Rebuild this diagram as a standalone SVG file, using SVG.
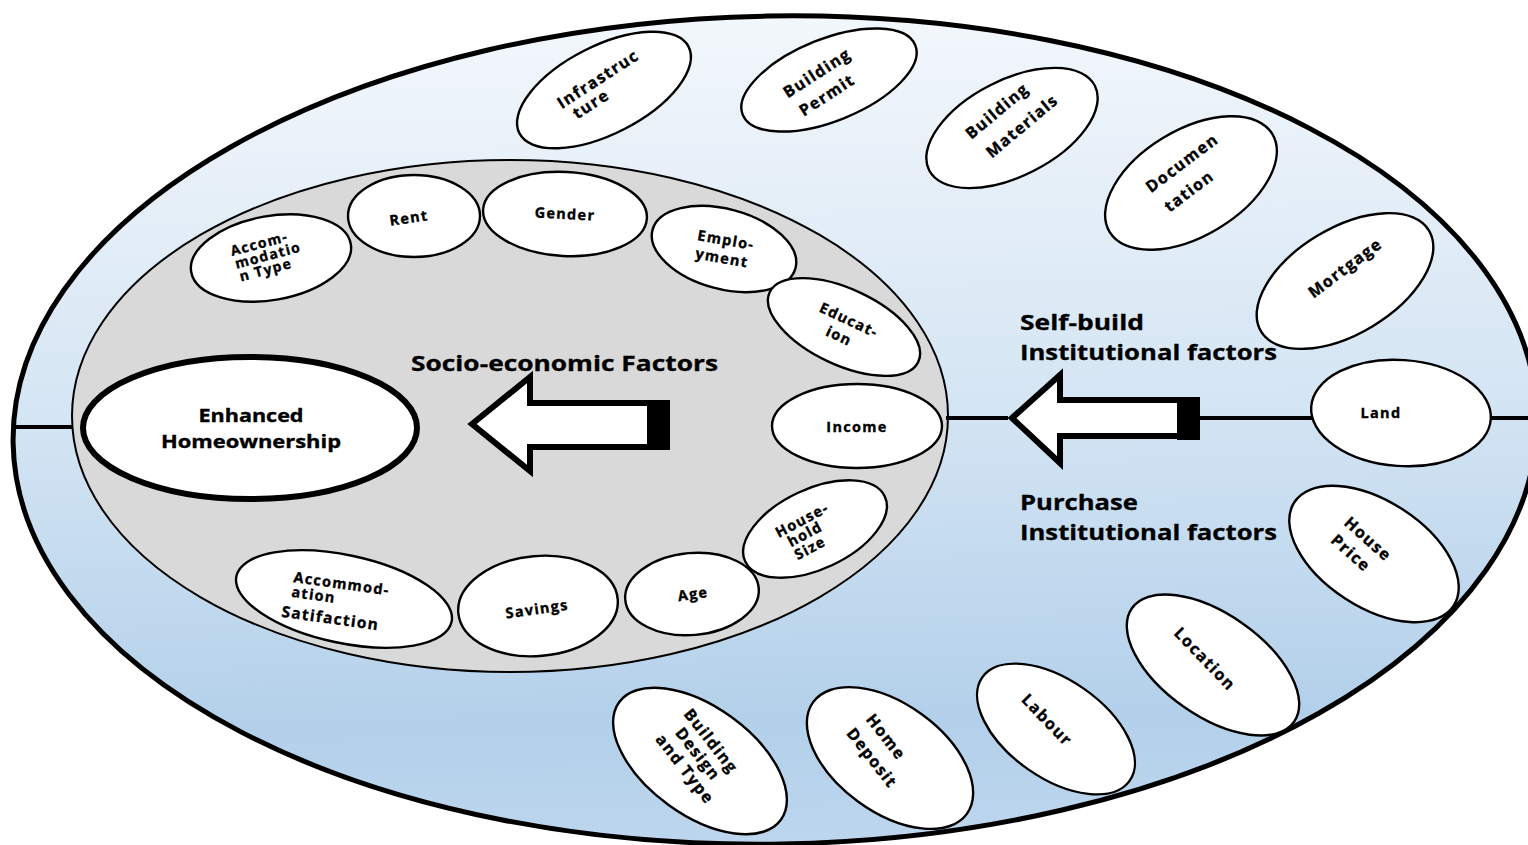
<svg xmlns="http://www.w3.org/2000/svg" width="1528" height="845" viewBox="0 0 1528 845">
  <defs>
    <linearGradient id="skyFill" x1="0" y1="0" x2="0" y2="1">
      <stop offset="0" stop-color="#f3f7fc"/>
      <stop offset="0.45" stop-color="#d6e6f4"/>
      <stop offset="0.85" stop-color="#b3d0ea"/>
      <stop offset="1" stop-color="#bdd6ee"/>
    </linearGradient>
    <style>
      .node { fill: #ffffff; stroke: #000000; stroke-width: 2.4; }
      .t { font-family: "Open Sans", "Liberation Sans", sans-serif; font-weight: 700; font-size: 16px; letter-spacing: 1.4px; text-anchor: middle; fill: #000000; stroke: #000000; stroke-width: 0.35; }
      .ts { font-size: 14.5px; letter-spacing: 1.3px; }
      .big { font-family: "Open Sans", "Liberation Sans", sans-serif; font-weight: 700; font-size: 21px; fill: #000000; stroke: #000000; stroke-width: 0.3; }
      .link { stroke: #000000; stroke-width: 4; fill: none; }
      .blockArrow { fill: #ffffff; stroke: #000000; stroke-width: 6; stroke-linejoin: miter; }
    </style>
  </defs>

  <!-- outer institutional ring and inner socio-economic disc -->
  <g id="frame">
    <ellipse cx="775" cy="430" rx="762" ry="414" transform="rotate(-1 775 430)" fill="url(#skyFill)" stroke="#000" stroke-width="5"/>
    <ellipse cx="510" cy="416" rx="438" ry="256" fill="#d9d9d9" stroke="#000" stroke-width="2"/>
  </g>

  <!-- connecting lines and block arrows -->
  <g id="connectors">
    <line class="link" x1="12" y1="427" x2="72" y2="427"/>
    <line class="link" x1="946" y1="418" x2="1008" y2="418"/>
    <line class="link" x1="1200" y1="418" x2="1312" y2="418"/>
    <line class="link" x1="1490" y1="418" x2="1528" y2="418"/>
    <polygon class="blockArrow" points="472,424 530,377 530,403 650,403 650,447 530,447 530,471"/>
    <rect x="647" y="400" width="23" height="50" fill="#000"/>
    <polygon class="blockArrow" points="1012,418 1060,375 1060,400 1180,400 1180,436 1060,436 1060,463"/>
    <rect x="1177" y="397" width="23" height="43" fill="#000"/>
  </g>

  <!-- group headings -->
  <g id="headings">
    <text class="big" x="411" y="371" textLength="307" lengthAdjust="spacingAndGlyphs">Socio-economic Factors</text>
    <text class="big" x="1020" y="330" textLength="124" lengthAdjust="spacingAndGlyphs">Self-build</text>
    <text class="big" x="1020" y="360" textLength="257" lengthAdjust="spacingAndGlyphs">Institutional factors</text>
    <text class="big" x="1020" y="510" textLength="118" lengthAdjust="spacingAndGlyphs">Purchase</text>
    <text class="big" x="1020" y="540" textLength="257" lengthAdjust="spacingAndGlyphs">Institutional factors</text>
  </g>

  <!-- centre outcome -->
  <g id="n-enhanced">
    <ellipse cx="250" cy="428" rx="167" ry="71" fill="#fff" stroke="#000" stroke-width="6"/>
    <text class="t" x="251" y="422" style="font-size:18px;letter-spacing:0" textLength="105" lengthAdjust="spacingAndGlyphs">Enhanced</text>
    <text class="t" x="251" y="448" style="font-size:18px;letter-spacing:0" textLength="180" lengthAdjust="spacingAndGlyphs">Homeownership</text>
  </g>

  <!-- socio-economic factors -->
  <g id="n-accom-type">
    <ellipse class="node" cx="271" cy="258" rx="81" ry="42" transform="rotate(-10 271 258)"/>
    <g transform="translate(232,256) rotate(-15)">
      <text class="t ts" x="0" y="0" style="text-anchor:start;font-size:14px">Accom-</text>
      <text class="t ts" x="1" y="13.5" style="text-anchor:start;font-size:14px">modatio</text>
      <text class="t ts" x="2" y="27" style="text-anchor:start;font-size:14px">n Type</text>
    </g>
  </g>
  <g id="n-rent">
    <ellipse class="node" cx="414" cy="216" rx="66" ry="41"/>
    <text class="t ts" transform="translate(409,218) rotate(-8)" dy="0.35em">Rent</text>
  </g>
  <g id="n-gender">
    <ellipse class="node" cx="565" cy="214" rx="82" ry="42" transform="rotate(3 565 214)"/>
    <text class="t ts" transform="translate(565,214) rotate(3)" dy="0.35em">Gender</text>
  </g>
  <g id="n-employment">
    <ellipse class="node" cx="724" cy="249" rx="74" ry="40" transform="rotate(15 724 249)"/>
    <text class="t ts" transform="translate(726,240) rotate(10)" dy="0.35em">Emplo-</text>
    <text class="t ts" transform="translate(722,258) rotate(10)" dy="0.35em">yment</text>
  </g>
  <g id="n-education">
    <ellipse class="node" cx="844" cy="327" rx="82" ry="38" transform="rotate(25 844 327)"/>
    <text class="t ts" transform="translate(849,320) rotate(25)" dy="0.35em">Educat-</text>
    <text class="t ts" transform="translate(839,336) rotate(25)" dy="0.35em">ion</text>
  </g>
  <g id="n-income">
    <ellipse class="node" cx="857" cy="426" rx="85" ry="42"/>
    <text class="t ts" x="857" y="427" dy="0.35em">Income</text>
  </g>
  <g id="n-household">
    <ellipse class="node" cx="815" cy="529" rx="77" ry="40" transform="rotate(-25 815 529)"/>
    <text class="t ts" transform="translate(802,520) rotate(-28)" dy="0.35em">House-</text>
    <text class="t ts" transform="translate(805,534) rotate(-28)" dy="0.35em">hold</text>
    <text class="t ts" transform="translate(810,548) rotate(-28)" dy="0.35em">Size</text>
  </g>
  <g id="n-age">
    <ellipse class="node" cx="692" cy="594" rx="67" ry="41" transform="rotate(-5 692 594)"/>
    <text class="t ts" transform="translate(693,594) rotate(-8)" dy="0.35em">Age</text>
  </g>
  <g id="n-savings">
    <ellipse class="node" cx="538" cy="606" rx="80" ry="50" transform="rotate(-5 538 606)"/>
    <text class="t ts" transform="translate(537,609) rotate(-8)" dy="0.35em">Savings</text>
  </g>
  <g id="n-accom-satisfaction">
    <ellipse class="node" cx="344" cy="599" rx="110" ry="44" transform="rotate(12 344 599)"/>
    <g transform="translate(293,582) rotate(8)">
      <text class="t ts" x="0" y="0" style="text-anchor:start">Accommod-</text>
      <text class="t ts" x="0" y="15" style="text-anchor:start">ation</text>
      <text class="t ts" x="-7" y="36" style="text-anchor:start;font-size:15.5px">Satifaction</text>
    </g>
  </g>

  <!-- institutional factors -->
  <g id="n-infrastructure">
    <ellipse class="node" cx="604" cy="90" rx="95" ry="44" transform="rotate(-27 604 90)"/>
    <text class="t" transform="translate(598,79) rotate(-33)" dy="0.35em">Infrastruc</text>
    <text class="t" transform="translate(591,104) rotate(-33)" dy="0.35em">ture</text>
  </g>
  <g id="n-building-permit">
    <ellipse class="node" cx="829" cy="80" rx="93" ry="41" transform="rotate(-22 829 80)"/>
    <text class="t" transform="translate(817,73) rotate(-33)" dy="0.35em">Building</text>
    <text class="t" transform="translate(827,95) rotate(-33)" dy="0.35em">Permit</text>
  </g>
  <g id="n-building-materials">
    <ellipse class="node" cx="1012" cy="128" rx="93" ry="48" transform="rotate(-27 1012 128)"/>
    <text class="t" transform="translate(997,111) rotate(-40)" dy="0.35em">Building</text>
    <text class="t" transform="translate(1022,126) rotate(-40)" dy="0.35em">Materials</text>
  </g>
  <g id="n-documentation">
    <ellipse class="node" cx="1191" cy="183" rx="95" ry="53" transform="rotate(-31 1191 183)"/>
    <text class="t" transform="translate(1182,163) rotate(-37)" dy="0.35em">Documen</text>
    <text class="t" transform="translate(1189,191) rotate(-37)" dy="0.35em">tation</text>
  </g>
  <g id="n-mortgage">
    <ellipse class="node" cx="1345" cy="281" rx="98" ry="53" transform="rotate(-31 1345 281)"/>
    <text class="t" transform="translate(1345,268) rotate(-37)" dy="0.35em">Mortgage</text>
  </g>
  <g id="n-land">
    <ellipse class="node" cx="1401" cy="413" rx="90" ry="53" transform="rotate(4 1401 413)"/>
    <text class="t ts" x="1381" y="413" dy="0.35em">Land</text>
  </g>
  <g id="n-house-price">
    <ellipse class="node" cx="1374" cy="554" rx="95" ry="53" transform="rotate(33 1374 554)"/>
    <text class="t" transform="translate(1368,539) rotate(42)" dy="0.35em">House</text>
    <text class="t" transform="translate(1351,553) rotate(42)" dy="0.35em">Price</text>
  </g>
  <g id="n-location">
    <ellipse class="node" cx="1213" cy="665" rx="99" ry="51" transform="rotate(35 1213 665)"/>
    <text class="t" transform="translate(1205,659) rotate(46)" dy="0.35em">Location</text>
  </g>
  <g id="n-labour">
    <ellipse class="node" cx="1056" cy="729" rx="90" ry="49" transform="rotate(35 1056 729)"/>
    <text class="t" transform="translate(1047,720) rotate(46)" dy="0.35em">Labour</text>
  </g>
  <g id="n-home-deposit">
    <ellipse class="node" cx="890" cy="758" rx="95" ry="54" transform="rotate(36 890 758)"/>
    <text class="t" transform="translate(886,737) rotate(52)" dy="0.35em">Home</text>
    <text class="t" transform="translate(872,758) rotate(52)" dy="0.35em">Deposit</text>
  </g>
  <g id="n-building-design">
    <ellipse class="node" cx="700" cy="761" rx="100" ry="54" transform="rotate(36 700 761)"/>
    <text class="t" transform="translate(711,741) rotate(52)" dy="0.35em">Building</text>
    <text class="t" transform="translate(698,754) rotate(52)" dy="0.35em">Design</text>
    <text class="t" transform="translate(685,769) rotate(52)" dy="0.35em">and Type</text>
  </g>
</svg>
